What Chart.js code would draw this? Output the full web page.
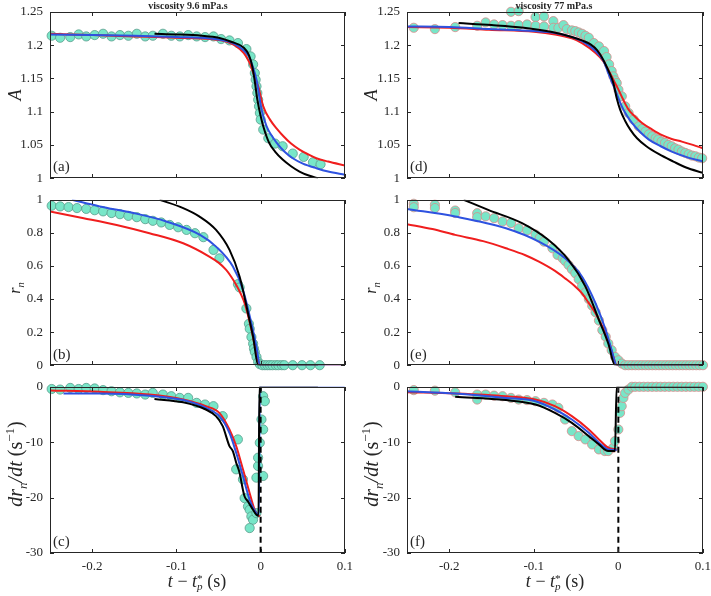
<!DOCTYPE html>
<html>
<head>
<meta charset="utf-8">
<script src="https://cdn.jsdelivr.net/npm/chart.js@4.4.1/dist/chart.umd.min.js"></script>
<style>
  body { margin: 0; background: #fff; width: 711px; height: 596px; position: relative; overflow: hidden; font-family: "Liberation Serif", serif; color: #262626; }
  canvas { position: absolute; }
  .title { position: absolute; font-size: 10px; font-weight: bold; transform: translate(-50%, -50%); white-space: nowrap; z-index: 2; }
  .tag { position: absolute; font-size: 15px; transform: translateY(-50%); z-index: 2; }
  .ylab { position: absolute; transform: translate(-50%, -50%) rotate(-90deg); white-space: nowrap; font-style: italic; }
  .xlab { position: absolute; transform: translate(-50%, -50%); white-space: nowrap; font-size: 18px; }
  .up { font-style: normal; }
  .ss { display: inline-block; vertical-align: -0.3em; line-height: 0.75; font-size: 0.62em; }
  .ss span { display: block; }
  sub, sup { font-size: 0.65em; line-height: 0; }
  .box { position: absolute; border: 1px solid #262626; box-sizing: border-box; z-index: 1; pointer-events: none; }
  .tk { position: absolute; background: #262626; z-index: 1; pointer-events: none; }
</style>
</head>
<body>
<canvas id="pa"></canvas><canvas id="pb"></canvas><canvas id="pc"></canvas>
<canvas id="pd"></canvas><canvas id="pe"></canvas><canvas id="pf"></canvas>

<div class="title" style="left:188px;top:5px">viscosity 9.6 mPa.s</div>
<div class="title" style="left:554px;top:5px">viscosity 77 mPa.s</div>

<div class="ylab" style="left:15px;top:95px;font-size:18px">A</div>
<div class="ylab" style="left:15px;top:288px;font-size:16px">r<sub>n</sub></div>
<div class="ylab" style="left:15px;top:464px;font-size:20px">dr<sub>n</sub>/dt <span class="up">(s<sup>−1</sup>)</span></div>
<div class="ylab" style="left:371px;top:95px;font-size:18px">A</div>
<div class="ylab" style="left:371px;top:288px;font-size:16px">r<sub>n</sub></div>
<div class="ylab" style="left:371px;top:464px;font-size:20px">dr<sub>n</sub>/dt <span class="up">(s<sup>−1</sup>)</span></div>

<div class="xlab" style="left:197px;top:581px"><i>t</i> − <i>t</i><span class="ss"><span>*</span><span><i>p</i></span></span> (s)</div>
<div class="xlab" style="left:555px;top:581px"><i>t</i> − <i>t</i><span class="ss"><span>*</span><span><i>p</i></span></span> (s)</div>

<div class="tag" style="left:53px;top:166px">(a)</div>
<div class="tag" style="left:53px;top:354px">(b)</div>
<div class="tag" style="left:53px;top:541px">(c)</div>
<div class="tag" style="left:410px;top:166px">(d)</div>
<div class="tag" style="left:410px;top:354px">(e)</div>
<div class="tag" style="left:410px;top:541px">(f)</div>

<script>
// tick values
const xTicks = [-0.2, -0.1, 0, 0.1];
const aTicks = [1, 1.05, 1.1, 1.15, 1.2, 1.25];
const rTicks = [0, 0.2, 0.4, 0.6, 0.8, 1];
const dTicks = [-30, -20, -10, 0];

// (a) A, viscosity 9.6
const aPoints = [[-0.248,1.214],[-0.238,1.211],[-0.226,1.212],[-0.216,1.216],[-0.207,1.213],[-0.197,1.215],[-0.187,1.217],[-0.177,1.213],[-0.167,1.215],[-0.157,1.214],[-0.147,1.217],[-0.137,1.213],[-0.128,1.214],[-0.116,1.217],[-0.106,1.214],[-0.096,1.213],[-0.086,1.215],[-0.076,1.213],[-0.066,1.212],[-0.056,1.213],[-0.047,1.209],[-0.037,1.207],[-0.027,1.203],
  [-0.017,1.194],[-0.012,1.183],[-0.009,1.171],[-0.007,1.158],[-0.006,1.148],[-0.005,1.138],[-0.004,1.128],[-0.003,1.118],[-0.002,1.108],[-0.001,1.098],[0,1.088],[0.003,1.073],[0.009,1.060],[0.017,1.052],[0.026,1.048],[0.038,1.037],[0.051,1.032],[0.062,1.024],[0.071,1.021]];
const aRed = [[-0.25,1.217],[-0.2,1.215],[-0.15,1.213],[-0.1,1.211],[-0.06,1.209],[-0.04,1.205],[-0.03,1.199],[-0.02,1.188],[-0.013,1.173],[-0.008,1.155],[-0.003,1.138],[0.003,1.108],[0.011,1.088],[0.02,1.073],[0.027,1.063],[0.036,1.052],[0.046,1.043],[0.056,1.036],[0.066,1.030],[0.08,1.025],[0.1,1.019]];
const aBlue = [[-0.25,1.216],[-0.2,1.215],[-0.15,1.214],[-0.1,1.212],[-0.06,1.210],[-0.04,1.206],[-0.03,1.201],[-0.02,1.192],[-0.014,1.183],[-0.01,1.170],[-0.005,1.148],[0.001,1.103],[0.007,1.078],[0.013,1.064],[0.019,1.053],[0.028,1.040],[0.038,1.030],[0.05,1.022],[0.066,1.015],[0.08,1.010],[0.1,1.005]];
const aBlack = [[-0.126,1.217],[-0.1,1.216],[-0.07,1.214],[-0.05,1.211],[-0.035,1.205],[-0.02,1.196],[-0.014,1.185],[-0.01,1.168],[-0.007,1.145],[-0.004,1.118],[0,1.093],[0.003,1.078],[0.01,1.053],[0.017,1.040],[0.026,1.028],[0.036,1.018],[0.046,1.010],[0.057,1.004],[0.068,1.0]];

// (b) r_n, viscosity 9.6
const bPoints = [[-0.248,0.964],[-0.238,0.96],[-0.228,0.956],[-0.218,0.95],[-0.207,0.945],[-0.197,0.937],[-0.187,0.93],[-0.177,0.92],[-0.167,0.913],[-0.157,0.903],[-0.147,0.895],[-0.137,0.883],[-0.128,0.873],[-0.118,0.863],[-0.108,0.848],[-0.098,0.834],[-0.088,0.818],[-0.078,0.798],[-0.068,0.774],[-0.056,0.697],[-0.049,0.646],[-0.027,0.49],[-0.025,0.47],[-0.017,0.343],[-0.014,0.25],[-0.013,0.22],[-0.011,0.17],[-0.009,0.13],[-0.008,0.10],[-0.007,0.08],[-0.005,0.05],[-0.003,0.02],[-0.001,0.006],[0.002,0],[0.005,0],[0.008,0],[0.011,0],[0.014,0],[0.018,0],[0.021,0],[0.025,0],[0.028,0],[0.038,0],[0.049,0],[0.059,0],[0.070,0]];
const bRed = [[-0.25,0.929],[-0.21,0.889],[-0.171,0.848],[-0.132,0.798],[-0.092,0.737],[-0.061,0.657],[-0.05,0.62],[-0.041,0.576],[-0.035,0.535],[-0.029,0.485],[-0.024,0.435],[-0.019,0.374],[-0.015,0.3],[-0.011,0.212],[-0.005,0.071],[-0.001,0],[0.1,0]];
const bBlue = [[-0.224,1.0],[-0.191,0.96],[-0.151,0.92],[-0.112,0.869],[-0.072,0.788],[-0.053,0.717],[-0.033,0.596],[-0.021,0.455],[-0.011,0.253],[-0.005,0.111],[-0.001,0],[0.1,0]];
const bBlack = [[-0.12,1.0],[-0.092,0.95],[-0.073,0.9],[-0.053,0.818],[-0.037,0.697],[-0.025,0.535],[-0.015,0.313],[-0.009,0.172],[-0.003,0],[0.068,0]];

// (c) dr_n/dt, viscosity 9.6
const cPoints = [[-0.248,-0.4],[-0.238,-0.5],[-0.226,-0.2],[-0.216,-0.4],[-0.207,-0.2],[-0.197,-0.3],[-0.187,-0.6],[-0.177,-0.8],[-0.167,-1.0],[-0.157,-1.1],[-0.147,-1.2],[-0.137,-1.4],[-0.128,-1.1],[-0.116,-1.4],[-0.106,-1.7],[-0.096,-2.0],[-0.086,-2.0],[-0.076,-2.9],[-0.066,-3.2],[-0.056,-3.5],[-0.045,-5.3],[-0.027,-9.5],[-0.029,-14.9],[-0.021,-16.7],[-0.019,-20.1],[-0.015,-21.6],[-0.013,-22.2],[-0.011,-23.4],[-0.009,-24.0],[-0.013,-25.5],[-0.005,-22.8],[-0.005,-16.4],[-0.003,-14.3],[-0.003,-12.8],[-0.001,-10.1],[0.001,-5.9],[0.003,-7.7],[0.003,-16.1],[0.003,-1.7],[0.005,-2.6]];
const cRed = [[-0.25,-0.66],[-0.191,-0.9],[-0.132,-1.4],[-0.092,-2.3],[-0.065,-3.5],[-0.049,-4.7],[-0.037,-7.7],[-0.029,-10.7],[-0.021,-14.9],[-0.013,-19.2],[-0.007,-22.2],[-0.003,-23.1],[-0.001,-23.4]];
const cBlue = [[-0.234,-1.2],[-0.191,-1.2],[-0.132,-1.6],[-0.092,-2.4],[-0.065,-3.8],[-0.049,-5.3],[-0.037,-8.3],[-0.029,-11.9],[-0.021,-16.1],[-0.013,-20.4],[-0.005,-22.8],[-0.002,-23.1],[-0.001,0],[0.1,0]];
const cBlack = [[-0.126,-2.2],[-0.092,-2.8],[-0.065,-4.1],[-0.053,-5.3],[-0.045,-7.1],[-0.037,-10.7],[-0.033,-11.6],[-0.029,-13.7],[-0.025,-15.5],[-0.021,-18.6],[-0.019,-19.8],[-0.015,-20.7],[-0.009,-22.2],[-0.005,-23.1],[-0.0025,-23.3],[-0.0015,0],[0.068,0]];
const cDash = [[0,0],[0,-30]];

// (d) A, viscosity 77
const dPoints = [[-0.242,1.226],[-0.217,1.224],[-0.193,1.227],[-0.167,1.229],[-0.157,1.234],[-0.147,1.231],[-0.137,1.230],[-0.127,1.250],[-0.127,1.229],[-0.118,1.251],[-0.118,1.230],[-0.108,1.231],[-0.098,1.242],[-0.098,1.229],[-0.088,1.243],[-0.088,1.228],[-0.077,1.236],[-0.077,1.226],[-0.071,1.226],[-0.065,1.230],[-0.061,1.224],[-0.055,1.222],[-0.051,1.221],[-0.047,1.219],[-0.043,1.217],[-0.039,1.214],[-0.035,1.211],[-0.029,1.203],[-0.023,1.198],[-0.017,1.191],[-0.014,1.182],[-0.011,1.171],[-0.008,1.161],[-0.006,1.153],[-0.004,1.147],[-0.002,1.143],[0,1.133],[0.004,1.123],[0.008,1.108],[0.012,1.098],[0.018,1.088],[0.024,1.078],[0.028,1.074],[0.032,1.070],[0.036,1.066],[0.040,1.063],[0.044,1.060],[0.047,1.058],[0.051,1.055],[0.055,1.053],[0.059,1.050],[0.063,1.048],[0.067,1.045],[0.071,1.043],[0.075,1.040],[0.079,1.038],[0.083,1.036],[0.087,1.034],[0.091,1.033],[0.095,1.031],[0.099,1.030]];
const dRed = [[-0.25,1.227],[-0.2,1.226],[-0.153,1.223],[-0.1,1.220],[-0.075,1.216],[-0.055,1.210],[-0.043,1.203],[-0.027,1.188],[-0.018,1.176],[-0.012,1.163],[-0.006,1.148],[0,1.133],[0.006,1.117],[0.012,1.103],[0.02,1.092],[0.028,1.083],[0.04,1.073],[0.051,1.065],[0.063,1.059],[0.075,1.055],[0.088,1.050],[0.1,1.045]];
const dBlue = [[-0.25,1.228],[-0.2,1.227],[-0.153,1.224],[-0.1,1.221],[-0.075,1.218],[-0.055,1.212],[-0.043,1.206],[-0.027,1.191],[-0.018,1.177],[-0.012,1.158],[-0.004,1.133],[0.004,1.108],[0.01,1.094],[0.016,1.083],[0.026,1.069],[0.036,1.058],[0.05,1.048],[0.063,1.040],[0.08,1.032],[0.1,1.025]];
const dBlack = [[-0.189,1.233],[-0.15,1.230],[-0.112,1.226],[-0.08,1.220],[-0.057,1.213],[-0.043,1.207],[-0.033,1.201],[-0.025,1.192],[-0.018,1.178],[-0.012,1.162],[-0.006,1.143],[-0.002,1.120],[0.002,1.103],[0.008,1.086],[0.014,1.073],[0.022,1.060],[0.033,1.048],[0.048,1.036],[0.065,1.025],[0.08,1.016],[0.1,1.008]];

// (e) r_n, viscosity 77
const ePoints = [[-0.242,0.976],[-0.242,0.955],[-0.217,0.97],[-0.217,0.95],[-0.193,0.935],[-0.193,0.92],[-0.167,0.919],[-0.167,0.895],[-0.157,0.9],[-0.147,0.889],[-0.137,0.869],[-0.127,0.859],[-0.118,0.828],[-0.108,0.815],[-0.098,0.79],[-0.093,0.77],[-0.088,0.747],[-0.078,0.707],[-0.072,0.667],[-0.066,0.646],[-0.063,0.63],[-0.059,0.606],[-0.055,0.58],[-0.051,0.556],[-0.047,0.52],[-0.043,0.48],[-0.039,0.44],[-0.035,0.40],[-0.031,0.36],[-0.027,0.32],[-0.023,0.27],[-0.019,0.212],[-0.015,0.172],[-0.012,0.131],[-0.008,0.091],[-0.004,0.05],[0,0.03],[0.004,0.01],[0.008,0],[0.012,0],[0.016,0],[0.02,0],[0.024,0],[0.028,0],[0.032,0],[0.036,0],[0.04,0],[0.044,0],[0.048,0],[0.052,0],[0.056,0],[0.06,0],[0.064,0],[0.068,0],[0.072,0],[0.076,0],[0.08,0],[0.084,0],[0.088,0],[0.092,0],[0.096,0],[0.1,0]];
const eRed = [[-0.25,0.853],[-0.22,0.823],[-0.193,0.788],[-0.16,0.75],[-0.133,0.707],[-0.11,0.665],[-0.094,0.626],[-0.075,0.57],[-0.063,0.525],[-0.052,0.48],[-0.043,0.434],[-0.035,0.375],[-0.027,0.313],[-0.021,0.255],[-0.015,0.192],[-0.01,0.12],[-0.006,0.05],[-0.002,0],[0.1,0]];
const eBlue = [[-0.25,0.945],[-0.193,0.899],[-0.133,0.828],[-0.094,0.747],[-0.063,0.646],[-0.043,0.535],[-0.027,0.374],[-0.015,0.212],[-0.008,0.091],[-0.002,0],[0.1,0]];
const eBlack = [[-0.183,1.0],[-0.154,0.939],[-0.114,0.859],[-0.083,0.758],[-0.059,0.636],[-0.039,0.475],[-0.023,0.273],[-0.012,0.131],[-0.004,0],[0.1,0]];

// (f) dr_n/dt, viscosity 77
const fPoints = [[-0.242,-0.6],[-0.217,-0.7],[-0.193,-1.0],[-0.167,-2.3],[-0.167,-1.4],[-0.157,-1.4],[-0.147,-1.6],[-0.137,-1.7],[-0.127,-2.0],[-0.118,-2.3],[-0.108,-2.4],[-0.098,-2.6],[-0.088,-2.9],[-0.078,-3.2],[-0.071,-3.8],[-0.063,-5.9],[-0.055,-8.0],[-0.047,-8.9],[-0.039,-9.5],[-0.031,-10.4],[-0.023,-11.3],[-0.016,-11.6],[-0.012,-11.6],[-0.006,-11.0],[-0.004,-9.8],[0,-7.7],[0.002,-4.7],[0.004,-3.5],[0.006,-2.0],[0.008,-1.1],[0.012,-0.5],[0.016,0],[0.02,0],[0.025,0],[0.03,0],[0.035,0],[0.04,0],[0.045,0],[0.05,0],[0.055,0],[0.06,0],[0.065,0],[0.07,0],[0.075,0],[0.08,0],[0.085,0],[0.09,0],[0.095,0],[0.1,0]];
const fRed = [[-0.25,-0.97],[-0.193,-1.2],[-0.133,-1.7],[-0.098,-2.3],[-0.075,-3.5],[-0.055,-5.3],[-0.035,-7.7],[-0.023,-9.5],[-0.012,-11.0],[-0.002,-11.3]];
const fBlue = [[-0.25,-0.8],[-0.193,-1.2],[-0.133,-2.0],[-0.098,-2.6],[-0.075,-4.1],[-0.055,-5.9],[-0.035,-8.3],[-0.023,-10.1],[-0.012,-11.3],[-0.002,-11.4]];
const fBlack = [[-0.193,-1.8],[-0.133,-2.4],[-0.098,-3.2],[-0.075,-4.7],[-0.055,-6.5],[-0.035,-8.9],[-0.023,-10.4],[-0.012,-11.6],[-0.004,-11.6],[-0.002,0],[0.1,0]];
const fDash = [[0,0],[0,-30]];

const INK = "#262626";
const RED = "#f01e1e";
const BLUE = "#2e52e0";
const FILL = "#78e6c8";
const FONT = { family: "'Liberation Serif', serif", size: 13 };
const YW = 50, PAD = 8;

const fmt = (v) => String(Math.round(v * 100) / 100);
const pts = (arr) => arr.map(([x, y]) => ({ x, y }));

function addDiv(cls, left, top, width, height) {
  const el = document.createElement("div");
  el.className = cls;
  Object.assign(el.style, { left: left + "px", top: top + "px", width: width + "px", height: height + "px" });
  document.body.appendChild(el);
}

// box round the plot with MATLAB style inward ticks, placed from the chart's own area and scales
function drawFrame(chart, ox, oy, yt) {
  const a = chart.chartArea;
  const l = ox + Math.round(a.left), r = ox + Math.round(a.right);
  const t = oy + Math.round(a.top), b = oy + Math.round(a.bottom);
  addDiv("box", l, t, r - l, b - t);
  for (const v of xTicks) {
    const px = ox + Math.round(chart.scales.x.getPixelForValue(v));
    addDiv("tk", px, t, 1, 4);
    addDiv("tk", px, b - 4, 1, 4);
  }
  for (const v of yt) {
    const py = oy + Math.round(chart.scales.y.getPixelForValue(v));
    addDiv("tk", l, py, 4, 1);
    addDiv("tk", r - 4, py, 4, 1);
  }
}

function line(data, color, order) {
  return {
    data: pts(data), showLine: true, borderColor: color, borderWidth: 2,
    pointRadius: 0, cubicInterpolationMode: "monotone", order,
  };
}

function buildConfig(cfg) {
  const datasets = [
    line(cfg.black, "#000", 1),
    line(cfg.blue, BLUE, 2),
    line(cfg.red, RED, 3),
    {
      data: pts(cfg.points), pointRadius: 4.6, pointBackgroundColor: FILL,
      pointBorderColor: cfg.edge, pointBorderWidth: 0.8, clip: false, order: 10,
    },
  ];
  if (cfg.dash) {
    datasets.unshift({
      data: pts(cfg.dash), showLine: true, borderColor: "#000", borderWidth: 2,
      borderDash: [6, 4], pointRadius: 0, order: 0,
    });
  }
  return {
    type: "scatter",
    data: { datasets },
    options: {
      responsive: false,
      maintainAspectRatio: false,
      animation: false,
      events: [],
      layout: { padding: { top: PAD, right: PAD, left: 0, bottom: 0 } },
      plugins: { legend: { display: false }, tooltip: { enabled: false } },
      scales: {
        x: {
          type: "linear", min: -0.25, max: 0.1,
          afterBuildTicks: (s) => { s.ticks = xTicks.map((v) => ({ value: v })); },
          afterFit: (s) => { s.height = cfg.bottom ? 26 : PAD; },
          grid: { display: false, drawTicks: false }, border: { display: false },
          ticks: { display: !!cfg.bottom, autoSkip: false, maxRotation: 0, padding: 6, color: INK, font: FONT, callback: fmt },
        },
        y: {
          type: "linear", min: cfg.yt[0], max: cfg.yt[cfg.yt.length - 1],
          afterBuildTicks: (s) => { s.ticks = cfg.yt.map((v) => ({ value: v })); },
          afterFit: (s) => { s.width = YW; },
          grid: { display: false, drawTicks: false }, border: { display: false },
          ticks: { autoSkip: false, padding: 7, color: INK, font: FONT, callback: fmt },
        },
      },
    },
  };
}

// a scratch chart measures the margins chart.js keeps, so the real plot box lands on `box`
function renderPanel(id, box, cfg) {
  const w = box.r - box.l, h = box.b - box.t;
  const scratch = document.createElement("canvas");
  scratch.width = w + 80;
  scratch.height = h + 60;
  const probe = new Chart(scratch, buildConfig(cfg));
  const a = probe.chartArea;
  const ins = { l: a.left, t: a.top, r: scratch.width - a.right, b: scratch.height - a.bottom };
  probe.destroy();

  const canvas = document.getElementById(id);
  const ox = Math.round(box.l - ins.l), oy = Math.round(box.t - ins.t);
  canvas.width = Math.round(ins.l + w + ins.r);
  canvas.height = Math.round(ins.t + h + ins.b);
  canvas.style.left = ox + "px";
  canvas.style.top = oy + "px";
  const chart = new Chart(canvas, buildConfig(cfg));
  drawFrame(chart, ox, oy, cfg.yt);
}

const LEFT = { l: 50, r: 345 }, RIGHT = { l: 407, r: 703 };
const ROW1 = { t: 12, b: 178 }, ROW2 = { t: 200, b: 365 }, ROW3 = { t: 387, b: 553 };
const EDGE_L = "#5a9c8c", EDGE_R = "#d88a8a";

renderPanel("pa", { ...LEFT, ...ROW1 }, { yt: aTicks, points: aPoints, red: aRed, blue: aBlue, black: aBlack, edge: EDGE_L });
renderPanel("pb", { ...LEFT, ...ROW2 }, { yt: rTicks, points: bPoints, red: bRed, blue: bBlue, black: bBlack, edge: EDGE_L });
renderPanel("pc", { ...LEFT, ...ROW3 }, { yt: dTicks, points: cPoints, red: cRed, blue: cBlue, black: cBlack, dash: cDash, edge: EDGE_L, bottom: true });
renderPanel("pd", { ...RIGHT, ...ROW1 }, { yt: aTicks, points: dPoints, red: dRed, blue: dBlue, black: dBlack, edge: EDGE_R });
renderPanel("pe", { ...RIGHT, ...ROW2 }, { yt: rTicks, points: ePoints, red: eRed, blue: eBlue, black: eBlack, edge: EDGE_R });
renderPanel("pf", { ...RIGHT, ...ROW3 }, { yt: dTicks, points: fPoints, red: fRed, blue: fBlue, black: fBlack, dash: fDash, edge: EDGE_R, bottom: true });
</script>
</body>
</html>
